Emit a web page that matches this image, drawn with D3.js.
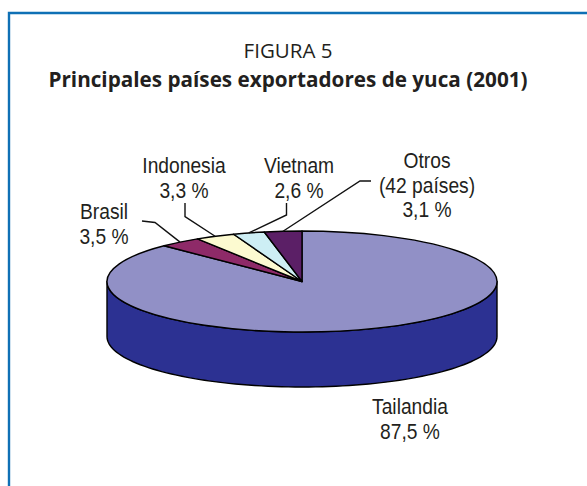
<!DOCTYPE html>
<html><head><meta charset="utf-8">
<script src="https://cdn.jsdelivr.net/npm/d3@7/dist/d3.min.js"></script>
<style>html,body{margin:0;padding:0;background:#fff}svg{display:block}</style>
</head><body><svg id="c" width="587" height="486"></svg>
<script>
const categories = ["Tailandia","Brasil","Indonesia","Vietnam","Otros"];
const values = [87.5,3.5,3.3,2.6,3.1];
const valueLabels = ["87,5 %","3,5 %","3,3 %","2,6 %","3,1 %"];
const sliceColors = ["#9190c6","#8e2a68","#fcfad0","#cdeef4","#5b1f66"];
const sideColor = "#2c3192";

const W=587,H=486,cx=302,cy=281.5,rx=195,ry=50.5,depth=55;
const svg=d3.select("#c");

// frame
svg.append("path").attr("d",`M9 ${H}V13H${W}`).attr("fill","none").attr("stroke","#0f70b5").attr("stroke-width",2.4);

// titles
const tt=svg.append("g").attr("font-family","'Open Sans',sans-serif").attr("fill","#231f20").attr("text-anchor","middle");
tt.append("text").attr("x",288).attr("y",58).attr("font-size",20.5).text("FIGURA 5");
tt.append("text").attr("x",288).attr("y",87).attr("font-size",20.7).attr("font-weight",700).text("Principales países exportadores de yuca (2001)");

// pie
const arcs=d3.pie().sort(null).value(d=>d)(values);
const pt=(a,dy=0)=>[cx+rx*Math.sin(a),cy-ry*Math.cos(a)+dy];

// side wall (front half of the cylinder)
const front=d3.range(90,270.5,2).map(d=>d*Math.PI/180);
const wall=[...front.map(a=>pt(a)),...front.slice().reverse().map(a=>pt(a,depth))];
svg.append("path").attr("d",d3.line()(wall)+"Z").attr("fill",sideColor).attr("stroke","#000").attr("stroke-width",1.4).attr("stroke-linejoin","round");

// top face
const arc=d3.arc().innerRadius(0).outerRadius(rx);
svg.append("g").attr("transform",`translate(${cx},${cy}) scale(1,${ry/rx})`)
  .selectAll("path").data(arcs).join("path")
  .attr("d",arc).attr("fill",(d,i)=>sliceColors[i])
  .attr("stroke","#000").attr("stroke-width",1.4).attr("stroke-linejoin","round")
  .attr("vector-effect","non-scaling-stroke");

// leader elbows, ending at each slice's rim midpoint
const leaderElbows={Brasil:[[142,221],[155,222.5]],Indonesia:[[185,203],[185,216.5]],Vietnam:[[286.5,203],[286.5,215]],Otros:[[371,181],[360,181]]};
categories.forEach((c,i)=>{
  if(!leaderElbows[c])return;
  const m=(arcs[i].startAngle+arcs[i].endAngle)/2;
  svg.append("path").attr("d",d3.line()([...leaderElbows[c],pt(m)]))
    .attr("fill","none").attr("stroke","#111").attr("stroke-width",1.4);
});

// labels (horizontally condensed to match the narrow face of the reference)
const labelPos={Tailandia:[410,414],Brasil:[104,219],Indonesia:[184,173],Vietnam:[299,173],Otros:[427,168]};
const lh=24.5, condense=0.855;
const lg=svg.append("g").attr("font-family","'Liberation Sans',sans-serif").attr("font-size",22.5).attr("fill","#231f20").attr("text-anchor","middle");
categories.forEach((c,i)=>{
  const [x,y]=labelPos[c];
  const lines=c==="Otros"?[c,"(42 países)",valueLabels[i]]:[c,valueLabels[i]];
  lines.forEach((t,k)=>lg.append("text").attr("transform",`translate(${x},${y+k*lh}) scale(${condense},1)`).text(t));
});
</script></body></html>
